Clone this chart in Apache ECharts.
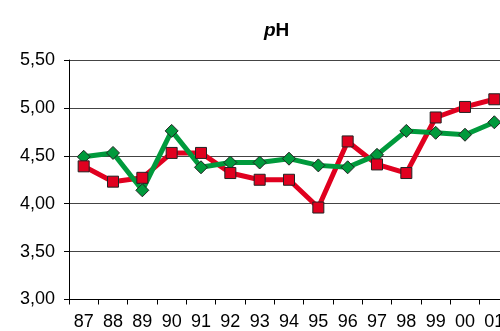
<!DOCTYPE html>
<html>
<head>
<meta charset="utf-8">
<script src="https://cdn.jsdelivr.net/npm/echarts@6/dist/echarts.min.js"></script>
<style>
  html, body { margin: 0; padding: 0; background: #fff; }
  #chart { width: 500px; height: 331px; }
</style>
</head>
<body>
<div id="chart"></div>
<script>
// Years shown on the category axis
const years = ['87', '88', '89', '90', '91', '92', '93', '94', '95', '96', '97', '98', '99', '00', '01'];

// pH series (red squares, green diamonds)
const phRed = [4.39, 4.23, 4.27, 4.53, 4.53, 4.32, 4.25, 4.25, 3.96, 4.65, 4.41, 4.32, 4.90, 5.01, 5.09];
const phGreen = [4.49, 4.53, 4.14, 4.76, 4.38, 4.43, 4.43, 4.47, 4.40, 4.38, 4.51, 4.76, 4.74, 4.72, 4.85];

// Value axis range
const yMin = 3.0;
const yMax = 5.5;
const yStep = 0.5;

const RED = '#e0001f';
const GREEN = '#009a3c';
const FONT = 'Liberation Sans, Arial, sans-serif';

const chart = echarts.init(document.getElementById('chart'), null, { renderer: 'canvas' });

// Lines first, markers on top of both lines
function lineSeries(data, color) {
  return {
    type: 'line', data: data, symbol: 'none', z: 2,
    lineStyle: { color: color, width: 5, join: 'round' },
    animation: false, silent: true
  };
}
function markerSeries(data, color, shape, size) {
  return {
    type: 'line', data: data, symbol: shape, symbolSize: size, z: 3,
    showAllSymbol: true,
    lineStyle: { opacity: 0, width: 0 },
    itemStyle: { color: color, borderColor: '#222', borderWidth: 1 },
    animation: false, silent: true
  };
}

chart.setOption({
  backgroundColor: '#ffffff',
  animation: false,
  title: {
    text: '{i|p}{b|H}',
    left: 259, top: 16,
    textStyle: {
      rich: {
        i: { fontFamily: FONT, fontSize: 19, fontWeight: 'bold', fontStyle: 'italic', color: '#000' },
        b: { fontFamily: FONT, fontSize: 19, fontWeight: 'bold', color: '#000' }
      }
    }
  },
  // The plot area runs past the right edge of the canvas
  grid: { left: 69, top: 60, width: 440, bottom: 31.5, containLabel: false, outerBoundsMode: 'none' },
  xAxis: {
    type: 'category',
    data: years,
    boundaryGap: true,
    axisLine: { lineStyle: { color: '#000', width: 1 } },
    axisTick: { show: true, length: 5, lineStyle: { color: '#000' }, alignWithLabel: false },
    axisLabel: { color: '#000', fontFamily: FONT, fontSize: 18, margin: 14, interval: 0, hideOverlap: false },
    splitLine: { show: false }
  },
  yAxis: {
    type: 'value',
    min: yMin, max: yMax, interval: yStep,
    axisLine: { show: true, lineStyle: { color: '#000', width: 1 } },
    axisTick: { show: true, length: 5, lineStyle: { color: '#000' } },
    axisLabel: {
      color: '#000', fontFamily: FONT, fontSize: 18, margin: 14,
      formatter: v => v.toFixed(2).replace('.', ',')
    },
    splitLine: { show: true, lineStyle: { color: '#444', width: 1 } }
  },
  series: [
    lineSeries(phRed, RED),
    lineSeries(phGreen, GREEN),
    markerSeries(phGreen, GREEN, 'diamond', 13),
    markerSeries(phRed, RED, 'rect', 11)
  ]
});
</script>
</body>
</html>
